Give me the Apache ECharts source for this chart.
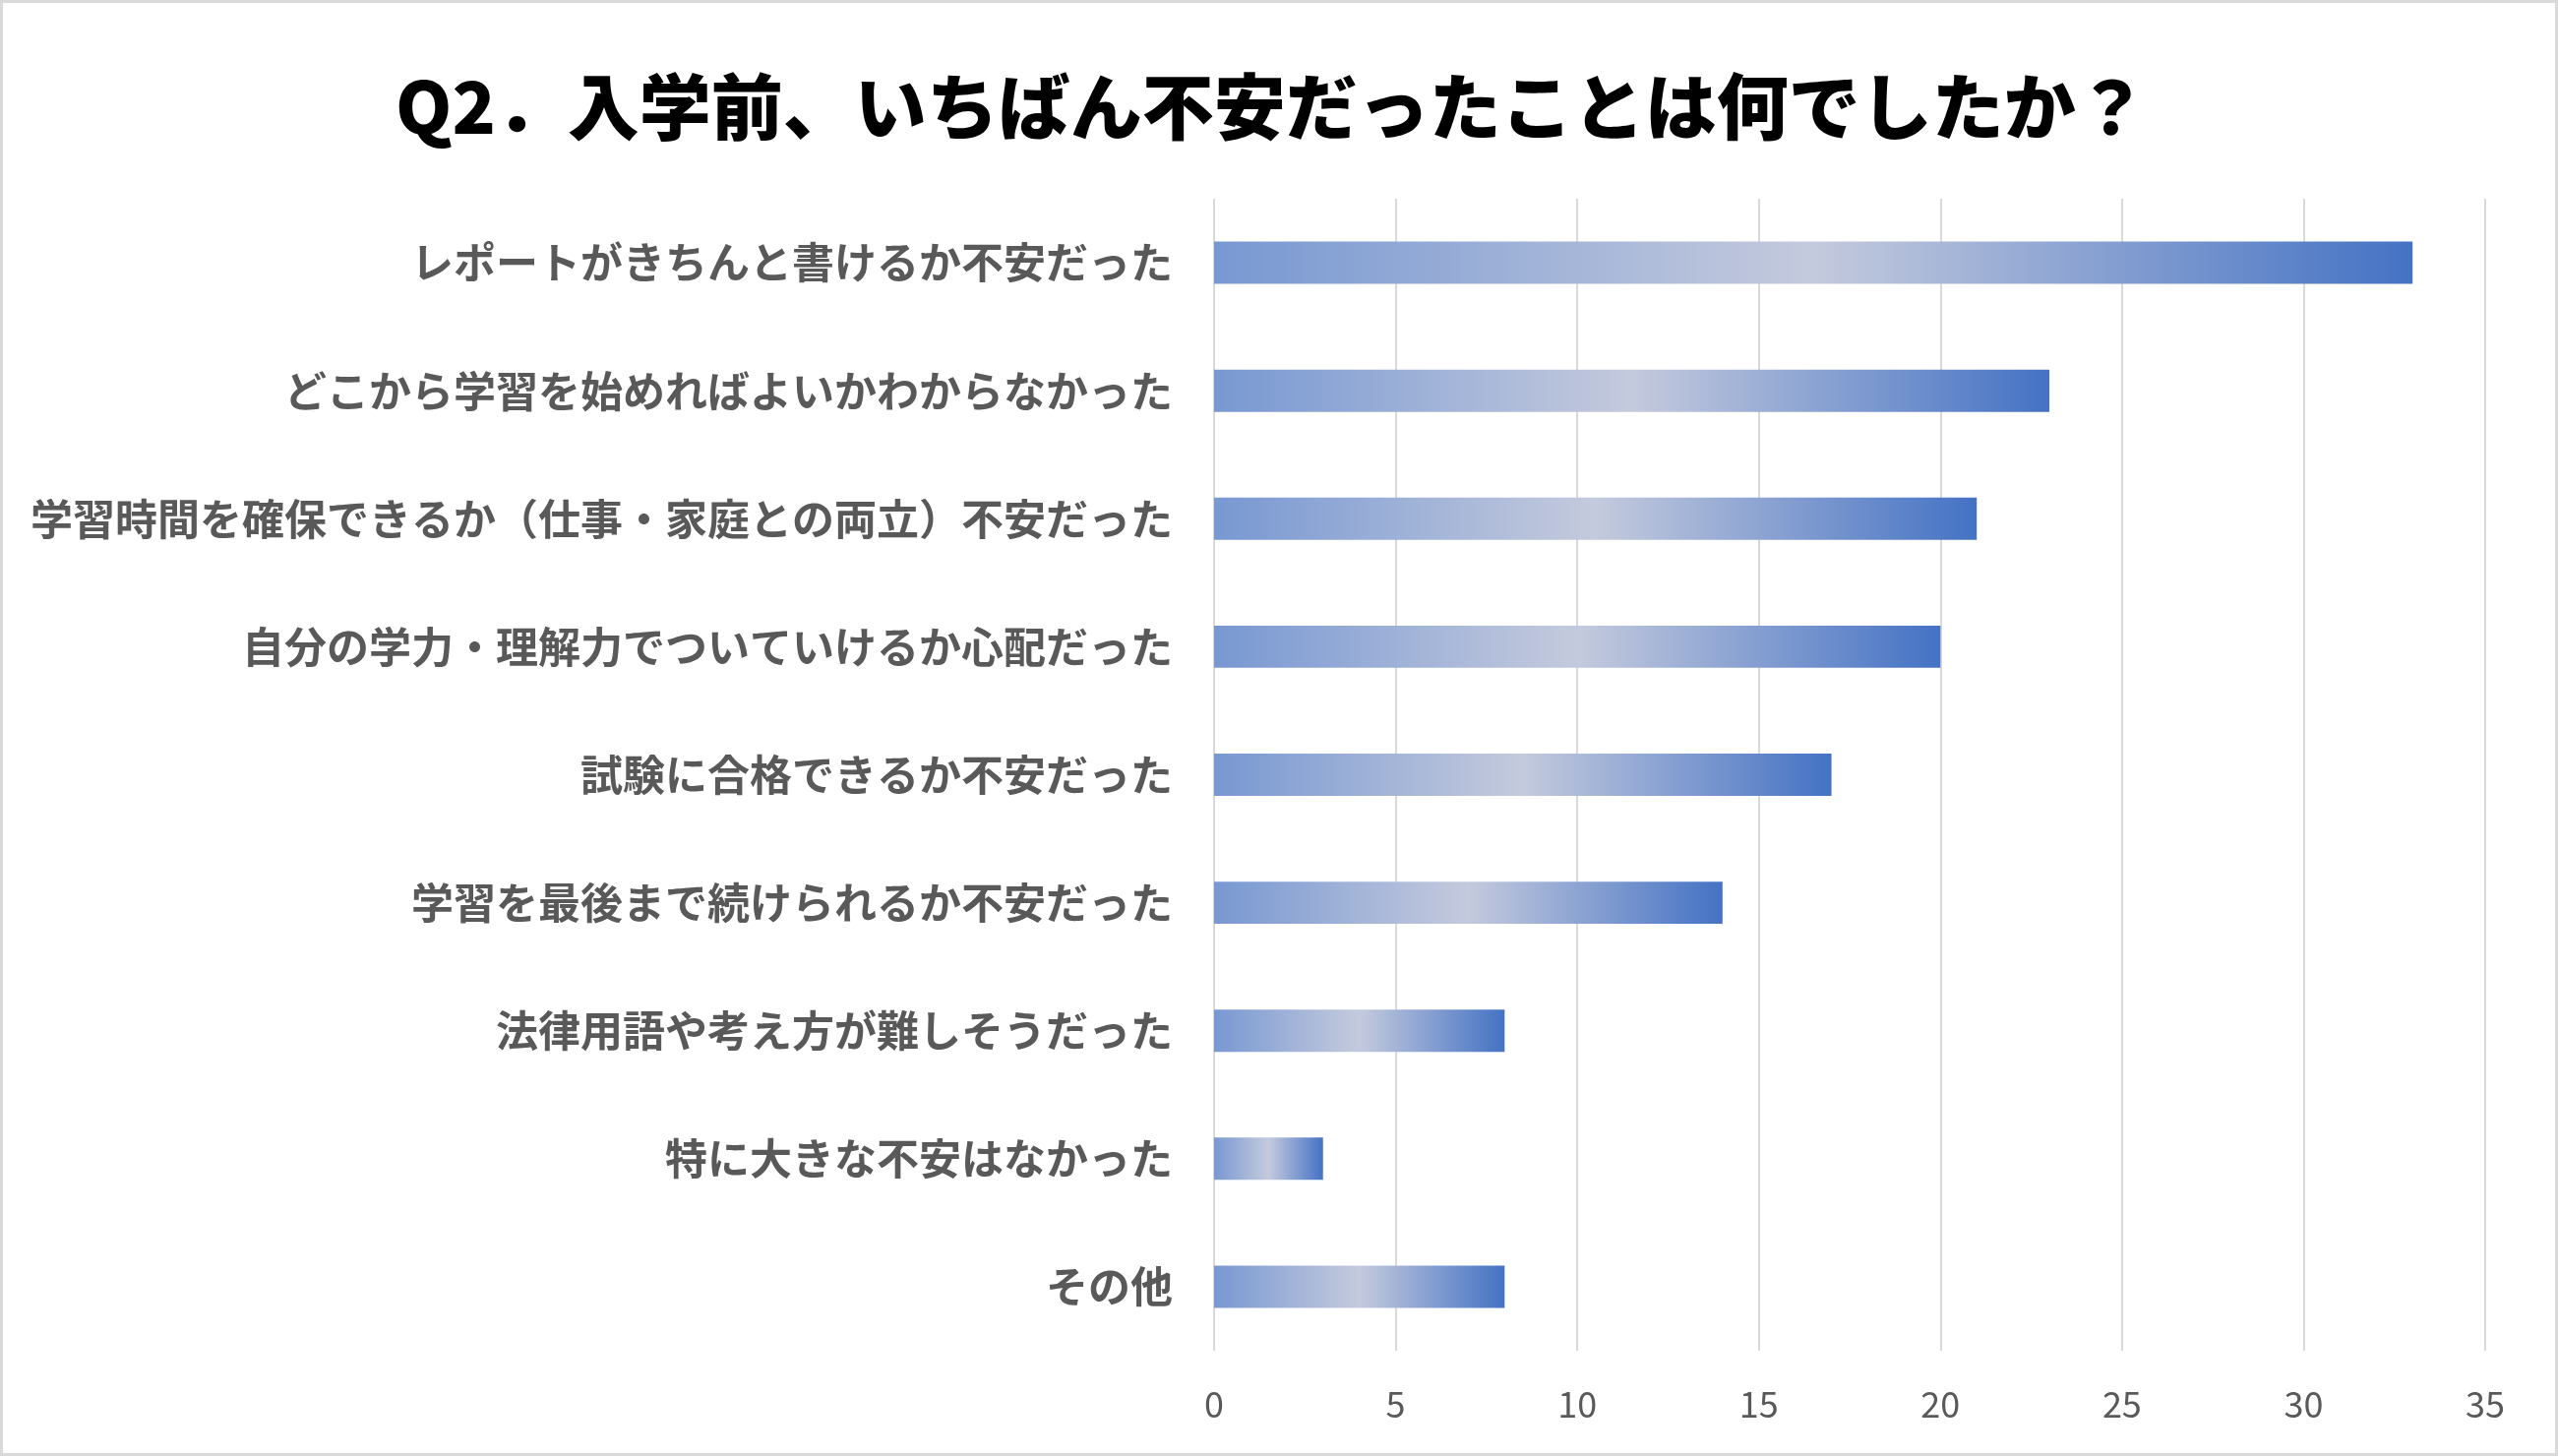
<!DOCTYPE html>
<html>
<head>
<meta charset="utf-8">
<script src="https://cdn.jsdelivr.net/npm/echarts@6/dist/echarts.min.js"></script>
<style>
  html, body { margin: 0; padding: 0; background: #fff; }
  #chart { width: 2600px; height: 1480px; }
</style>
</head>
<body>
<div id="chart"></div>
<script>
// categories, top to bottom
const categories = [
  'レポートがきちんと書けるか不安だった',
  'どこから学習を始めればよいかわからなかった',
  '学習時間を確保できるか（仕事・家庭との両立）不安だった',
  '自分の学力・理解力でついていけるか心配だった',
  '試験に合格できるか不安だった',
  '学習を最後まで続けられるか不安だった',
  '法律用語や考え方が難しそうだった',
  '特に大きな不安はなかった',
  'その他'
];
const counts = [33, 23, 21, 20, 17, 14, 8, 3, 8];
const xTicks = { min: 0, max: 35, interval: 5 };
const titleText = 'Q2．入学前、いちばん不安だったことは何でしたか？';

const font = '"Noto Sans CJK JP", "Noto Sans", sans-serif';

const barFill = new echarts.graphic.LinearGradient(0, 0, 1, 0, [
  { offset: 0, color: '#7898d2' },
  { offset: 0.5, color: '#c4cadd' },
  { offset: 1, color: '#4472c4' }
]);

const chart = echarts.init(document.getElementById('chart'));
chart.setOption({
  backgroundColor: '#fff',
  animation: false,
  title: {
    text: titleText,
    left: 397,
    top: 67,
    textStyle: { fontFamily: font, fontSize: 73, fontWeight: 900, color: '#000' }
  },
  graphic: [{
    type: 'rect',
    shape: { x: 1.5, y: 1.5, width: 2597, height: 1477 },
    style: { fill: 'none', stroke: '#d9d9d9', lineWidth: 3 },
    silent: true
  }],
  grid: { left: 1234, right: 74, top: 202, bottom: 107 },
  xAxis: {
    type: 'value',
    min: xTicks.min, max: xTicks.max, interval: xTicks.interval,
    axisLine: { show: false },
    axisTick: { show: false },
    splitLine: { lineStyle: { color: '#d9d9d9', width: 2 } },
    axisLabel: { fontFamily: font, fontSize: 36, color: '#595959', margin: 36 }
  },
  yAxis: {
    type: 'category',
    inverse: true,
    data: categories,
    axisLine: { show: false },
    axisTick: { show: false },
    axisLabel: { fontFamily: font, fontSize: 43, fontWeight: 'bold', color: '#595959', margin: 42 }
  },
  series: [{
    type: 'bar',
    data: counts,
    barCategoryGap: '67%',
    itemStyle: { color: barFill }
  }]
});
</script>
</body>
</html>
